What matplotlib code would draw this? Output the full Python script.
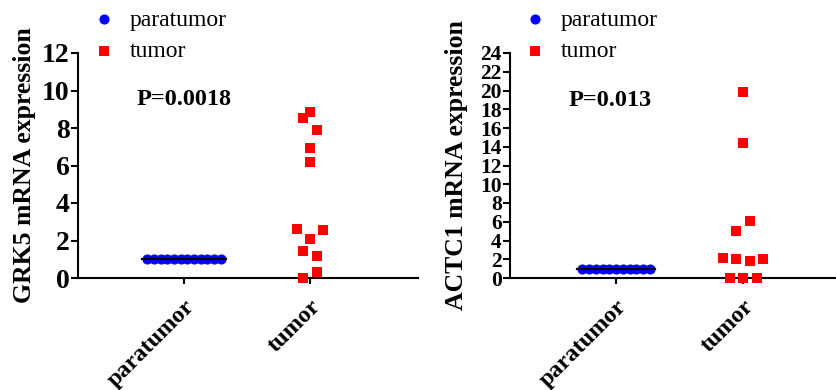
import numpy as np
import matplotlib
matplotlib.use("Agg")
import matplotlib.pyplot as plt

plt.rcParams['font.family'] = ['Liberation Serif', 'DejaVu Serif']

# === Data ===
groups = ["paratumor", "tumor"]

grk5_para = [1.0] * 12
grk5_tumor = [8.85, 8.55, 7.9, 6.95, 6.2, 2.6, 2.55, 2.1, 1.45, 1.15, 0.3, 0.0]
grk5_p = "P=0.0018"

actc1_para = [1.0] * 11
actc1_tumor = [19.8, 14.45, 6.1, 5.0, 2.13, 2.0, 1.8, 2.03, 0.04, 0.0, 0.01]
actc1_p = "P=0.013"

# scatter slots (column layout, in marker widths)
grk5_slots = [0, -1, 1, 0, 0, -2, 2, 0, -1, 1, 1, -1]
actc1_slots = [0, 0, 1, -1, -3, -1, 1, 3, -2, 0, 2]

STEP = 0.053
BLUE = (0, 0, 1)
RED = (1, 0, 0)


def panel(ax, para, tumor, slots, ymax, ystep, ylabel, ptext, pxy, xlim, tick_fs, lab_x):
    n = len(para)
    para_x = 1 + (np.arange(n) - (n - 1) / 2) * STEP
    tumor_x = 2 + np.array(slots) * STEP
    ax.scatter(para_x, para, s=42, marker='o', color=BLUE, linewidths=0.8,
               edgecolors=BLUE, label="paratumor", clip_on=False, zorder=3)
    ax.scatter(tumor_x, tumor, s=46, marker='s', color=RED, linewidths=0,
               label="tumor", clip_on=False, zorder=3)
    half = (n - 1) / 2 * STEP + 0.045
    med = np.median(para)
    ax.plot([1 - half, 1 + half], [med, med], color='black', lw=1.6, zorder=4)

    ax.set_xlim(*xlim)
    ax.set_ylim(0, ymax)
    ax.set_yticks(np.arange(0, ymax + 1, ystep))
    ax.set_xticks([1, 2])
    ax.set_xticklabels(groups, rotation=45, ha='right', va='top',
                       rotation_mode='anchor', fontsize=17.5, fontweight='bold')
    for lab in ax.get_yticklabels():
        lab.set_fontweight('bold')
        lab.set_fontsize(tick_fs)
    ax.tick_params(axis='y', length=5, width=1.5, pad=1)
    ax.tick_params(axis='x', length=4, width=1.5, pad=9)
    for s in ['top', 'right']:
        ax.spines[s].set_visible(False)
    for s in ['left', 'bottom']:
        ax.spines[s].set_linewidth(1.5)
    ax.set_ylabel(ylabel, fontsize=18.5, fontweight='bold')
    ax.yaxis.set_label_coords(lab_x, 0.5)
    ax.text(pxy[0], pxy[1], ptext, fontsize=17.5, fontweight='bold',
            ha='center', va='center')


fig = plt.figure(figsize=(8.36, 3.9), dpi=100)
ax1 = fig.add_axes([78 / 836, 112 / 390, 340 / 836, 225 / 390])
ax2 = fig.add_axes([510 / 836, 112 / 390, 326 / 836, 225 / 390])

panel(ax1, grk5_para, grk5_tumor, grk5_slots, 12, 2, "GRK5 mRNA expression",
      grk5_p, (1.0, 9.5), (0.159, 2.857), 20, -0.124)
panel(ax2, actc1_para, actc1_tumor, actc1_slots, 24, 2, "ACTC1 mRNA expression",
      actc1_p, (0.95, 18.95), (0.165, 2.732), 15.5, -0.129)

for ax, x0 in [(ax1, 92), (ax2, 523)]:
    ax.legend(loc='upper left', bbox_to_anchor=(x0 / 836, 1 - 9 / 390),
              bbox_transform=fig.transFigure, frameon=False, fontsize=17,
              handlelength=1.0, handletextpad=0.6, labelspacing=0.42,
              borderpad=0, borderaxespad=0, scatterpoints=1)

fig.savefig("out.png", dpi=100)
